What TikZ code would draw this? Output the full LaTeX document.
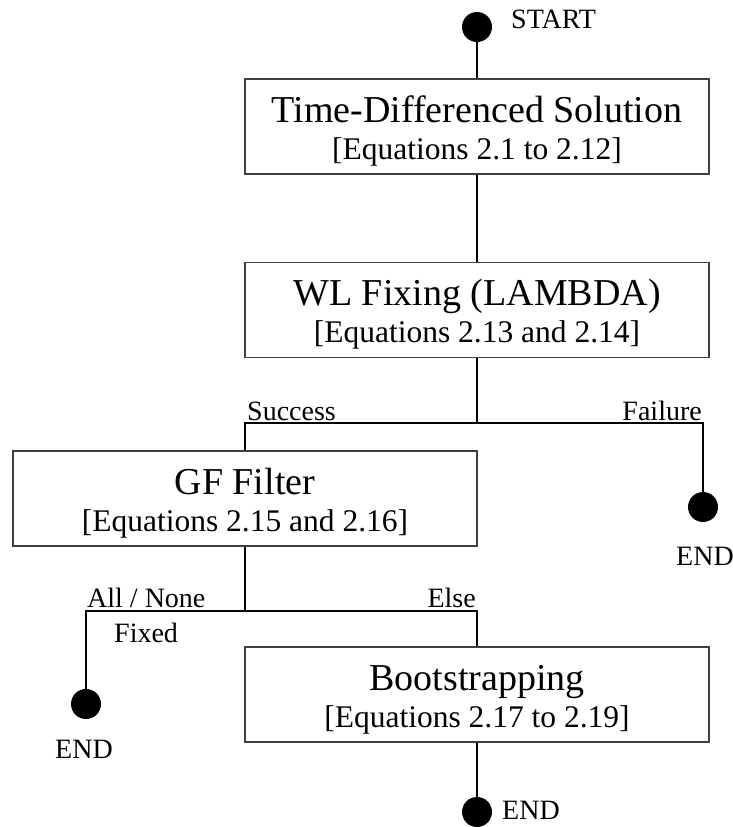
\documentclass[tikz,border=0pt]{standalone}
\usepackage{fontspec}
\setmainfont{Liberation Serif}
\begin{document}
\begin{tikzpicture}[x=1pt,y=-1pt,
  box/.style={draw=black!75,line width=1.4pt,minimum width=464pt,minimum height=95pt,inner sep=0pt},
  dot/.style={circle,fill=black,minimum size=30pt,inner sep=0pt},
  ttl/.style={anchor=base,font=\fontsize{38}{40}\selectfont,inner sep=0pt},
  sub/.style={anchor=base,font=\fontsize{31.5}{33}\selectfont,inner sep=0pt},
  lbl/.style={font=\fontsize{28}{30}\selectfont,inner sep=0pt},
  conn/.style={line width=1.3pt}]
\useasboundingbox (0,0) rectangle (733,827);
% boxes
\node[box] (b1) at (477,126.5) {};
\node[box] (b2) at (477,310) {};
\node[box] (b3) at (245,498.5) {};
\node[box] (b4) at (477,694.5) {};
% texts
\node[ttl] (t1) at (477,122) {Time-Differenced Solution};
\node[sub] (s1) at (477,159) {[Equations 2.1 to 2.12]};
\node[ttl] (t2) at (477,305) {WL Fixing (LAMBDA)};
\node[sub] (s2) at (477,342) {[Equations 2.13 and 2.14]};
\node[ttl] (t3) at (245,494) {GF Filter};
\node[sub] (s3) at (245,531) {[Equations 2.15 and 2.16]};
\node[ttl] (t4) at (477,690) {Bootstrapping};
\node[sub] (s4) at (477,727) {[Equations 2.17 to 2.19]};
% dots
\node[dot] (s) at (477,27) {};
\node[dot] (e1) at (703,507) {};
\node[dot] (e2) at (86,704) {};
\node[dot] (e3) at (477,812) {};
% junctions
\coordinate (j1) at (477,423);
\coordinate (j1l) at (245,423);
\coordinate (j1r) at (703,423);
\coordinate (j2) at (245,611);
\coordinate (j2l) at (86,611);
\coordinate (j2r) at (477,611);
% connectors
\draw[conn] (s) -- (b1);
\draw[conn] (b1) -- (b2);
\draw[conn] (b2.south) -- (j1);
\draw[conn] (b3.north) -- (j1l) -- (j1r) -- (e1);
\draw[conn] (b3.south) -- (j2);
\draw[conn] (e2) -- (j2l) -- (j2r) -- (b4.north);
\draw[conn] (b4) -- (e3);
% labels
\node[lbl,anchor=base west] (lstart) at (511,28) {START};
\node[lbl,anchor=base west] (lsucc) at (247,420) {Success};
\node[lbl,anchor=base east] (lfail) at (702,420) {Failure};
\node[lbl,anchor=base] (lend1) at (705,565) {END};
\node[lbl,anchor=base west] (lall) at (87,607) {All / None};
\node[lbl,anchor=base west] (lfix) at (114,642) {Fixed};
\node[lbl,anchor=base east] (lelse) at (476,607) {Else};
\node[lbl,anchor=base] (lend2) at (84,758) {END};
\node[lbl,anchor=base west] (lend3) at (502,819) {END};
\end{tikzpicture}
\end{document}
